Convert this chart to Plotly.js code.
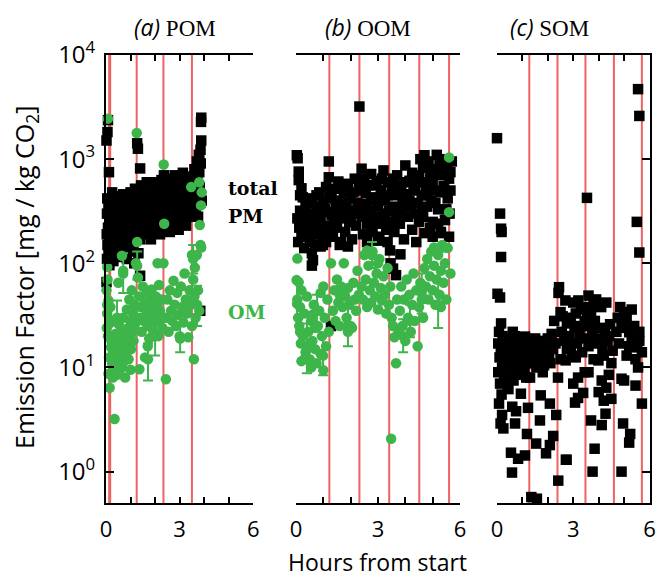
<!DOCTYPE html>
<html><head><meta charset="utf-8">
<script src="https://cdn.plot.ly/plotly-3.0.1.min.js"></script>
<style>html,body{margin:0;padding:0;background:#fff}#chart{width:657px;height:579px}</style>
</head><body><div id="chart"></div>
<script>
// ---------- DATA ----------
const xTickVals = [0,1,2,3,4,5,6];
const xTickText = ['0','','','3','','','6'];
const yTickVals = [1,10,100,1000,10000];
const yTickText = ['10<sup>0</sup>','10<sup>1</sup>','10<sup>2</sup>','10<sup>3</sup>','10<sup>4</sup>'];

const panelTitles = ['(a)','(b)','(c)'];
const panelNames = ['POM','OOM','SOM'];

// vertical red lines (hours)
const redA = [0.15,1.25,2.34,3.5];
const redB = [1.22,2.32,3.41,4.51,5.6];
const redC = [1.27,2.38,3.48,4.6,5.7];

// Panel (a) POM: total PM [hour, EF]
const aPM = [[0.08,2370],[0.06,1820],[0.02,1510],[0.12,750],[0.05,420],[0.10,350],[0.04,300],[0.15,260],[0.08,220],[0.03,190],[0.12,170],[0.06,150],[0.10,130],[0.04,110],[0.14,96],[0.02,66],[0.18,310],[0.20,200],[0.16,140],
[0.25,480],[0.30,320],[0.32,210],[0.35,150],[0.38,400],[0.40,270],[0.42,180],[0.45,125],[0.48,350],[0.50,230],[0.52,440],[0.55,160],[0.58,300],[0.60,200],[0.62,140],[0.65,380],[0.68,250],[0.70,460],[0.72,175],[0.75,330],[0.78,220],[0.80,135],[0.82,290],[0.85,410],[0.88,190],[0.90,260],[0.92,150],[0.95,360],[0.98,230],[1.00,480],[1.02,170],[1.05,310],[1.08,210],[1.10,390],[1.12,130],[1.15,280],[1.18,520],[1.20,240],
[0.30,105],[0.55,115],[0.85,110],[1.15,100],
[1.27,1420],[1.30,1260],[1.39,815],[1.39,76],[1.32,125],
[1.25,350],[1.28,200],[1.33,450],[1.36,290],[1.40,170],[1.43,560],[1.46,380],[1.50,240],[1.53,320],[1.56,190],[1.60,470],[1.63,270],[1.66,600],[1.70,350],[1.73,210],[1.76,420],[1.80,300],[1.83,170],[1.86,520],[1.90,250],[1.93,380],[1.96,200],[2.00,450],[2.03,320],[2.06,230],[2.10,560],[2.13,280],[2.16,400],[2.20,190],[2.23,340],[2.26,630],[2.30,260],
[2.33,480],[2.36,700],[2.38,330],[2.40,220],[2.43,560],[2.46,400],[2.50,270],[2.53,650],[2.56,350],[2.60,200],[2.63,480],[2.66,300],[2.70,580],[2.73,420],[2.76,240],[2.80,700],[2.83,360],[2.86,270],[2.90,520],[2.93,430],[2.96,210],[3.00,620],[3.03,330],[3.06,470],[3.10,260],[3.13,740],[3.16,390],[3.20,300],[3.23,550],[3.26,230],[3.30,450],[3.33,340],[3.36,680],[3.40,280],[3.43,500],[3.46,380],
[3.52,600],[3.55,420],[3.58,300],[3.60,800],[3.63,520],[3.66,350],[3.70,950],[3.72,650],[3.75,460],[3.78,1100],[3.80,750],[3.82,540],[3.84,35],[3.85,1230],[3.86,910],[3.88,2500],[3.87,2280],[3.88,1510],[3.80,1050],[3.90,400],[3.75,280],
[0.30,430],[0.50,380],[0.70,300],[0.90,450],[1.10,200],[1.45,500],[1.65,430],[1.85,380],[2.05,600],[2.25,460],[2.45,620],[2.65,550],[2.85,600],[3.05,400],[3.25,650],[3.45,600],[3.60,680],[2.20,280],[1.55,280],[2.75,330]];

// Panel (a) POM: OM
const aOM = [[0.08,2450],[0.05,92],[0.02,55],[0.10,44],[0.05,33],[0.15,26.5],[0.08,20],[0.20,15.6],[0.12,12.5],[0.25,10.9],[0.10,8.7],[0.28,8],[0.15,6.4],[0.35,3.2],[0.03,24],[0.18,38],[0.22,18],[0.30,13],[0.32,9.5],[0.06,70],[0.25,28],
[0.38,21],[0.40,15],[0.42,11],[0.45,8.5],[0.48,18],[0.50,13],[0.52,26],[0.55,9.5],[0.58,16],[0.60,12],[0.62,22],[0.65,10],[0.68,14],[0.70,30],[0.72,17],[0.75,11.5],[0.78,8],[0.80,20],[0.82,13.5],[0.85,36],[0.88,16],[0.90,24],[0.92,12],[0.95,45],[0.98,19],[1.00,28],[1.02,15],[1.05,55],[1.08,22],[1.10,33],[1.12,18],[1.15,40],[0.70,85],[0.50,65],[0.65,118],[1.00,9.5],[1.18,26],
[1.25,1780],[1.27,160],[1.22,100],[1.30,73],[1.35,48],[1.38,30],[1.36,9.6],[1.42,38],[1.45,22],[1.50,60],[1.53,28],[1.59,12.5],[1.60,42],[1.63,32],[1.66,52],[1.70,25],[1.73,36],[1.76,19],[1.80,45],[1.83,30],[1.86,56],[1.90,38],[1.93,22],[2.44,7.7],[2.00,33],[2.03,48],[2.06,27],[2.10,40],[2.13,20],[2.16,62],[2.20,35],[2.23,29],[2.26,45],[2.30,24],[2.35,890],[2.37,240],[2.34,100],[2.10,100],[1.70,16],
[2.45,30],[2.50,45],[2.55,22],[2.60,55],[2.65,35],[2.70,28],[2.75,68],[2.80,40],[2.85,25],[2.90,52],[2.95,32],[3.00,20],[3.05,60],[3.10,38],[3.15,27],[3.20,80],[3.25,45],[3.30,33],[3.35,19.5],[3.40,55],[3.45,40],[3.50,25],[3.55,70],[3.60,48],[3.65,30],[3.58,12],[3.70,120],[3.75,55],[3.80,35],[3.85,150],[3.88,142],[3.82,233],[3.87,360],[3.47,540],[3.80,600],[3.90,480],[3.62,91],[3.50,120]];

// OM points with error bars [hour, EF, upper, lower]
const aOMerr = [[0.05,40,65,25],[0.45,30,44,19],[0.70,80,125,52],[1.06,28,42,18],[1.27,95,130,70],[1.71,12,17,7.5],[2.00,20,28,13],[3.02,19,25,14],[3.71,40,61,25],[3.55,110,150,80]];

// Panel (b) OOM: total PM
const bPM = [[0.03,1090],[0.06,1020],[0.10,760],[0.10,630],[0.20,525],[0.25,430],[0.15,320],[0.05,270],[0.12,220],[0.20,180],[0.08,160],[0.30,140],[0.35,360],[0.40,250],
[0.58,125],[0.62,107],[0.58,95],[0.98,150],[1.28,25],
[0.45,200],[0.50,300],[0.55,170],[0.60,420],[0.65,240],[0.70,150],[0.75,350],[0.80,210],[0.85,480],[0.90,270],[0.95,180],[1.00,390],[1.05,230],[1.10,160],[1.15,310],[1.20,950],[1.20,670],[1.22,450],[1.25,200],[0.50,160],[0.70,280],[0.90,145],[1.10,540],
[1.30,290],[1.35,180],[1.40,520],[1.45,350],[1.50,220],[1.55,610],[1.60,400],[1.65,160],[1.70,280],[1.75,480],[1.80,200],[1.85,340],[1.90,580],[1.95,250],[2.00,420],[2.05,170],[2.10,300],[2.15,650],[2.20,230],[2.25,380],[1.60,150],[1.90,145],
[2.32,3200],[2.40,810],
[2.35,500],[2.40,280],[2.45,190],[2.50,650],[2.55,370],[2.60,240],[2.65,560],[2.70,320],[2.75,720],[2.80,200],[2.85,430],[2.90,280],[2.95,620],[3.00,350],[3.05,180],[3.10,500],[3.15,260],[3.20,780],[3.25,400],[3.30,210],[3.35,600],[3.40,320],[2.60,160],[3.00,165],
[3.35,160],[3.44,133],[3.46,100],[3.55,89],[3.66,77],[3.82,122],
[3.45,250],[3.50,540],[3.55,350],[3.60,200],[3.65,450],[3.70,700],[3.75,300],[3.80,240],[3.85,520],[3.90,380],[3.95,170],[4.00,870],[4.05,460],[4.10,280],[4.15,620],[4.20,350],[4.25,210],[4.30,500],[4.35,300],[4.40,160],
[4.50,700],[4.55,1000],[4.60,450],[4.65,280],[4.70,1090],[4.72,820],[4.75,550],[4.80,350],[4.85,950],[4.90,650],[4.95,400],[5.00,250],[5.05,800],[5.10,500],[5.15,1100],[5.20,330],[5.25,700],[5.30,200],[5.35,900],[5.40,550],[5.45,260],[5.50,850],[5.53,910],[5.55,420],[5.60,650],[5.62,300],[5.65,750],[4.70,195],[5.30,195],[5.00,180],[4.90,220],[5.60,180],[4.50,250],[5.20,240],
[0.30,230],[0.45,380],[0.55,260],[0.65,190],[0.75,450],[0.85,300],[0.95,220],[1.05,330],[1.15,190],[1.30,420],[1.40,250],[1.50,330],[1.60,270],[1.70,560],[1.80,380],[1.90,300],[2.00,250],[2.10,480],[2.20,320],[2.30,600],[2.45,330],[2.55,470],[2.65,280],[2.75,400],[2.85,560],[2.95,240],[3.05,420],[3.15,650],[3.25,300],[3.35,450],[3.55,650],[3.65,280],[3.75,560],[3.85,330],[3.95,460],[4.05,600],[4.15,400],[4.25,740],[4.35,560],[4.45,380],[4.55,600],[4.65,850],[4.80,450],[4.95,700],[5.10,380],[5.25,1000],[5.40,750],[5.50,330],[5.65,500],[5.70,950],[4.60,320],[5.00,600],[5.30,480],[0.15,450],[0.25,300]];

// Panel (b) OOM: OM
const bOM = [[0.05,111],[0.02,69],[0.10,66],[0.05,45],[0.15,38],[0.08,30],[0.20,55],[0.12,25],[0.25,20],[0.18,17],[0.30,33],[0.35,14],[0.40,48],[0.45,22],[0.50,12],[0.55,28],[0.60,18],[0.65,40],[0.70,15],[0.75,11],[0.80,25],[0.85,35],[0.90,13.5],[0.95,20],[1.00,9.4],[1.05,30],[1.10,16],[1.15,45],[1.20,22],[0.30,12],[0.55,10],[0.70,24],[0.90,52],[0.40,16],[0.20,11.5],[1.00,60],[0.15,22],[0.60,32],
[1.28,100],
[1.35,35],[1.40,55],[1.45,28],[1.50,70],[1.55,42],[1.60,25],[1.65,60],[1.70,38],[1.75,100],[1.80,48],[1.85,30],[1.90,58],[1.95,40],[2.00,25],[2.05,24],[2.10,65],[2.15,45],[2.20,35],[2.25,85],[2.30,50],[1.60,50],[1.90,22],
[2.40,60],[2.45,45],[2.50,120],[2.55,70],[2.60,38],[2.65,95],[2.70,55],[2.75,42],[2.80,130],[2.85,65],[2.90,48],[2.95,80],[3.00,36],[3.05,110],[3.10,58],[3.15,44],[3.20,75],[3.25,50],[3.30,33],[3.35,90],[3.40,40],[3.45,60],[3.50,30],[3.55,25],[3.60,19.5],[3.66,11],[3.48,2.07],[3.70,45],[3.75,22],[2.60,133],[3.00,100],
[3.80,35],[3.85,60],[3.90,25],[3.95,45],[4.00,18],[4.05,70],[4.10,30],[4.15,50],[4.20,22],[4.25,40],[4.30,80],[4.35,28],[4.40,55],[4.45,16],[4.50,38],[4.55,65],[4.60,45],[4.65,30],
[4.70,90],[4.75,60],[4.80,110],[4.85,45],[4.90,75],[4.95,130],[5.00,55],[5.05,95],[5.10,40],[5.15,70],[5.20,120],[5.25,50],[5.30,85],[5.35,150],[5.40,65],[5.45,100],[5.50,45],[5.55,140],[5.60,1040],[5.60,310],[5.40,142],[5.05,142],[5.65,80],[5.30,38]];

const bOMerr = [[0.04,41,64,26.5],[0.40,15,26.5,8.8],[0.77,35,50,22],[0.99,13,21,8.4],[1.90,25,40,16],[2.78,120,160,90],[3.92,20,29,14],[4.17,28,40,19.5],[4.60,52,80,33],[5.20,40,65,24]];

// Panel (c) SOM
const cSOM = [[0.00,1590],[5.55,4700],[5.60,2600],[3.54,425],[0.12,300],[0.16,215],[0.18,200],[5.50,250],[5.60,127],[0.16,115],
[0.02,51],[0.12,47],[0.16,26.5],[0.08,22],[0.05,17],[0.15,15],[0.10,12.5],[0.20,10],[0.05,9],[0.12,7],[0.18,5.5],[0.08,4.5],[0.20,3.5],[0.14,2.9],[0.25,2.6],[0.30,12],[0.22,20],[0.28,8],
[0.35,18],[0.40,14],[0.45,11],[0.50,9],[0.55,16],[0.60,12.5],[0.65,7.5],[0.70,20],[0.75,10.5],[0.80,14.5],[0.85,8.5],[0.90,17],[0.95,12],[1.00,10],[1.05,15],[1.10,19.8],[1.15,8],[1.20,13],[1.25,11],[0.38,10],[0.48,13],[0.58,18.5],[0.68,11],[0.78,16.5],[0.88,12],[0.98,14],[1.08,9.5],[1.18,16],[0.42,6.5],[0.62,22],[0.72,13.5],[0.92,11.5],[1.02,18],[1.12,13],[0.52,11],[0.82,10.5],
[0.55,1.52],[0.83,1.33],[0.59,0.98],[1.10,1.43],[0.94,5.6],[1.22,4.1],[1.18,2.3],[1.35,0.57],[1.57,0.55],[0.71,2.9],[0.60,4.2],[0.45,6.2],[0.75,3.8],
[1.35,14.5],[1.40,11],[1.45,17],[1.50,12.5],[1.55,10],[1.60,15.5],[1.65,13],[1.70,18],[1.75,11.5],[1.80,14],[1.85,10.5],[1.90,16],[1.95,12],[2.00,19],[2.05,13.5],[2.10,11],[2.15,21],[2.20,15],[2.25,28],[2.30,17],[1.50,19],[1.80,9],
[1.72,5.4],[1.69,3.1],[2.08,4.5],[2.21,2.2],[2.08,1.8],[1.93,1.5],[2.33,3.5],[2.71,1.3],[2.41,0.82],[1.54,1.86],[1.30,8],[2.40,8],
[2.44,59],[2.42,52],
[2.50,34],[2.58,31],[2.69,44],[2.80,30],[3.00,42],[3.20,44],[2.75,26.5],[2.90,28],[3.10,33],[3.30,36],[2.55,22],[2.65,18],[2.75,15],[2.85,20],[2.95,13],[3.05,24],[3.15,17],[3.25,21],[3.35,14],[3.45,19],[2.50,12],[2.70,11.7],[2.90,16],[3.10,12.5],[3.30,25],[3.45,28],
[3.19,8],[3.19,5.1],[3.39,5.7],[3.07,4.6],[2.74,1.3],[3.00,7],[3.45,9],
[3.60,49],[3.50,38],[3.80,40],[4.10,38],[3.70,33],[3.90,45],[4.30,42],[3.55,30],[3.65,25],[3.75,20],[3.85,28],[3.95,17],[4.05,24],[4.15,15],[4.25,22],[4.35,18],[4.45,26],[4.55,14.5],[3.60,16],[3.80,12],[4.00,19],[4.20,13],[4.40,20],[4.50,11],
[3.99,11.7],[4.12,7.5],[4.30,6.4],[4.20,4.8],[4.50,5],[4.27,3.6],[3.70,3.1],[4.12,2.8],[3.84,1.66],[3.76,1.0],[3.60,9],[4.40,8.5],[4.00,5.8],
[4.85,38],[5.00,34],[5.10,30],[5.30,36],[4.90,26.5],[5.20,21.8],[5.50,15.6],[4.70,22],[4.80,17],[5.00,24],[5.10,13],[5.30,19],[5.40,25],[5.60,18],[5.70,14],[4.75,30],[5.45,12],[5.20,16],[5.60,22],
[4.90,7.8],[5.00,7.5],[5.45,6.7],[4.96,2.9],[5.24,2.3],[5.20,1.9],[4.90,1.0],[5.70,4.5],[5.55,10]];

// ---------- STYLE ----------
const W = 657, H = 579;
const GREEN = '#3db54a', RED = 'rgba(236,70,70,0.85)';
const SANS = 'Open Sans', SERIF = 'Liberation Serif';
const px = v => v / W, py = v => 1 - v / H;
const MS = 10.5;

function pts(arr, ax, sym, color) {
  return {type:'scatter', mode:'markers', x:arr.map(p=>p[0]), y:arr.map(p=>p[1]),
    xaxis:'x'+ax, yaxis:'y'+ax, cliponaxis:false, hoverinfo:'skip', showlegend:false,
    marker:{symbol:sym, size:MS, color:color, line:{width:0}}};
}
function errPts(arr, ax) {
  return {type:'scatter', mode:'markers', x:arr.map(p=>p[0]), y:arr.map(p=>p[1]),
    xaxis:'x'+ax, yaxis:'y'+ax, cliponaxis:false, hoverinfo:'skip', showlegend:false,
    marker:{symbol:'circle', size:MS, color:GREEN},
    error_y:{type:'data', symmetric:false, array:arr.map(p=>p[2]-p[1]), arrayminus:arr.map(p=>p[1]-p[3]),
      color:GREEN, thickness:2, width:5}};
}

const traces = [
  pts(aPM,'', 'square','#000'), pts(aOM,'', 'circle',GREEN), errPts(aOMerr,''),
  pts(bPM,'2','square','#000'), pts(bOM,'2','circle',GREEN), errPts(bOMerr,'2'),
  pts(cSOM,'3','square','#000')
];

const yDom = [py(503), py(55)];
const yRange = [Math.log10(0.5), 4];
function xAx(dom, anchor) {
  return {domain:dom, range:[0,6], anchor:anchor, showline:true, linecolor:'#000', linewidth:2,
    mirror:'ticks', ticks:'inside', ticklen:6, tickwidth:2, tickcolor:'#000',
    tickmode:'array', tickvals:xTickVals, ticktext:xTickText, ticklabelstandoff:6,
    tickfont:{family:SANS, size:22, color:'#000'}, showgrid:false, zeroline:false, fixedrange:true};
}
function yAx(anchor, opts) {
  return Object.assign({domain:yDom, type:'log', range:yRange, anchor:anchor, showgrid:false, zeroline:false,
    tickmode:'array', tickvals:yTickVals, ticktext:yTickText, linecolor:'#000', linewidth:2,
    ticklen:8, tickwidth:2, tickcolor:'#000', tickfont:{family:SANS, size:24, color:'#000'}, fixedrange:true}, opts);
}

function redShapes(arr, ax) {
  return arr.map((v,i) => ({type:'line', xref:'x'+ax, yref:'y'+ax+' domain', x0:v, x1:v, y0:0, y1:1,
    line:{color:RED, width:(ax===''&&i===0)?3:2}, layer:'below'}));
}

const titleCenters = [175, 368, 549];
const annotations = panelTitles.map((t,i) => ({
  xref:'paper', yref:'paper', x:px(titleCenters[i]), y:py(27), xanchor:'center', yanchor:'middle', showarrow:false,
  text:'<span style="font-family:Open Sans;font-style:italic">'+t+'</span> '+panelNames[i],
  font:{family:SERIF, size:23, color:'#000'}
}));
annotations.push(
  {xref:'paper', yref:'paper', x:px(226), y:py(188), xanchor:'left', yanchor:'middle', showarrow:false,
   text:'<b>total</b>', font:{family:'DejaVu Serif', size:19, color:'#000'}},
  {xref:'paper', yref:'paper', x:px(226), y:py(216), xanchor:'left', yanchor:'middle', showarrow:false,
   text:'<b>PM</b>', font:{family:'DejaVu Serif', size:19, color:'#000'}},
  {xref:'paper', yref:'paper', x:px(226), y:py(312), xanchor:'left', yanchor:'middle', showarrow:false,
   text:'<b>OM</b>', font:{family:'DejaVu Serif', size:19, color:GREEN}},
  {xref:'paper', yref:'paper', x:px(377), y:py(562), xanchor:'center', yanchor:'middle', showarrow:false,
   text:'Hours from start', font:{family:SANS, size:23, color:'#000'}},
  {xref:'paper', yref:'paper', x:px(25), y:py(278), xanchor:'center', yanchor:'middle', showarrow:false, textangle:-90,
   text:'Emission Factor [mg / kg CO<sub>2</sub>]', font:{family:SANS, size:25, color:'#000'}}
);

const layout = {
  width:W, height:H, margin:{l:0, r:0, t:0, b:0}, paper_bgcolor:'#fff', plot_bgcolor:'rgba(0,0,0,0)',
  showlegend:false,
  xaxis: xAx([px(106), px(253.3)], 'y'),
  xaxis2: xAx([px(296), px(460)], 'y2'),
  xaxis3: xAx([px(497), px(649.5)], 'y3'),
  yaxis: yAx('x', {showline:true, ticks:'inside', ticklabelstandoff:4}),
  yaxis2: yAx('x2', {showline:false, ticks:'', showticklabels:false}),
  yaxis3: yAx('x3', {side:'right', showline:true, ticks:'inside', showticklabels:false}),
  shapes: [].concat(redShapes(redA,''), redShapes(redB,'2'), redShapes(redC,'3')),
  annotations: annotations
};

Plotly.newPlot('chart', traces, layout, {displayModeBar:false, staticPlot:true});
</script></body></html>
